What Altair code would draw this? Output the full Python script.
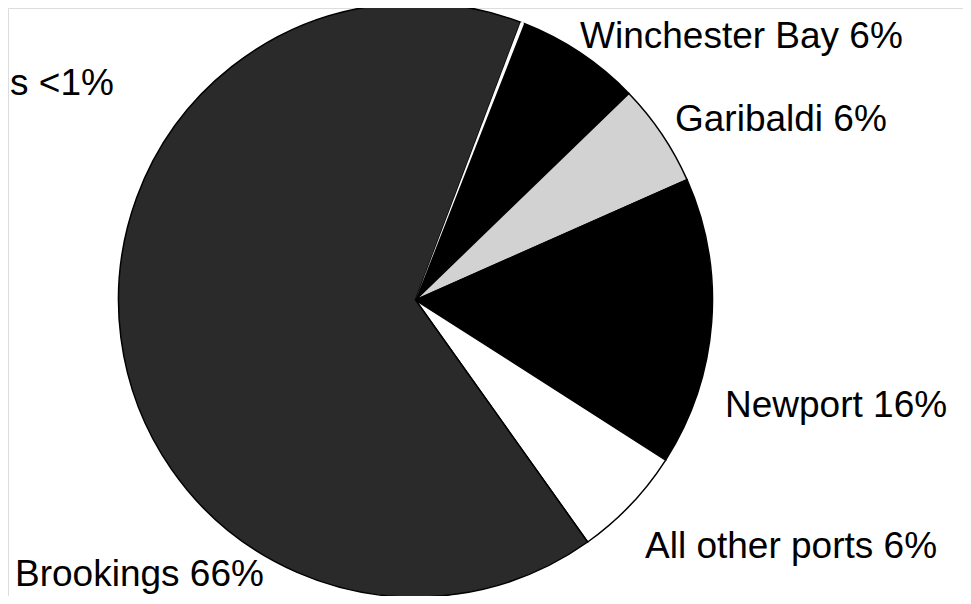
import math
import altair as alt
import pandas as pd

# ---- data ----
ports = ["Winchester Bay", "Garibaldi", "Newport", "All other ports", "Brookings", "Other <1%"]
shares = [6.8, 5.6, 15.7, 6.1, 65.6, 0.2]
fills = ["#000000", "#d2d2d2", "#000000", "#ffffff", "#2a2a2a", "#ffffff"]
labels = ["Winchester Bay 6%", "Garibaldi 6%", "Newport 16%", "All other ports 6%", "Brookings 66%", "s <1%"]

start_deg = 21.45
start = math.radians(start_deg)

df = pd.DataFrame({"port": ports, "share": shares, "idx": list(range(len(ports)))})

pie = alt.Chart(df).mark_arc(outerRadius=297, stroke="black", strokeWidth=1.5).encode(
    theta=alt.Theta("share:Q", stack=True, scale=alt.Scale(range=[start, start + 2 * math.pi])),
    color=alt.Color("port:N", scale=alt.Scale(domain=ports, range=fills), legend=None),
    order=alt.Order("idx:Q"),
    strokeOpacity=alt.condition("datum.port == 'Other <1%'", alt.value(0), alt.value(1)),
    x=alt.value(407.5),
    y=alt.value(292),
)

label_pos = {
    "Winchester Bay 6%": (572, 40, "left"),
    "Garibaldi 6%": (667, 123, "left"),
    "Newport 16%": (717, 409, "left"),
    "All other ports 6%": (637, 550, "left"),
    "Brookings 66%": (7, 578, "left"),
    "s <1%": (2, 87, "left"),
}

layers = [pie]
for lab in labels:
    px, py, al = label_pos[lab]
    t = alt.Chart(pd.DataFrame({"label": [lab]})).mark_text(
        align=al, baseline="alphabetic", font="Liberation Sans", fontSize=37, color="black"
    ).encode(x=alt.value(px), y=alt.value(py), text="label:N")
    layers.append(t)

chart = alt.layer(*layers).properties(
    width=955, height=588, padding=0, autosize=alt.AutoSizeParams(type="none")
).configure_view(stroke=None).configure(background="white")

chart.save("out.html", embed_options={"renderer": "svg", "actions": False})
